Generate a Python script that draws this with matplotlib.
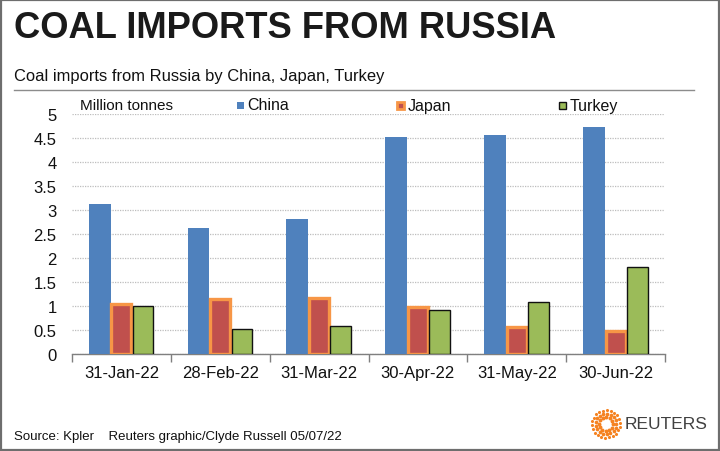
import numpy as np
import matplotlib
matplotlib.use("Agg")
import matplotlib.pyplot as plt
from matplotlib.patches import Rectangle
from matplotlib import font_manager as fm

months = ["31-Jan-22", "28-Feb-22", "31-Mar-22", "30-Apr-22", "31-May-22", "30-Jun-22"]
china = [3.12, 2.62, 2.81, 4.52, 4.57, 4.72]
japan = [1.05, 1.14, 1.17, 0.98, 0.57, 0.48]
turkey = [1.00, 0.52, 0.58, 0.91, 1.08, 1.81]
yticks = [0, 0.5, 1, 1.5, 2, 2.5, 3, 3.5, 4, 4.5, 5]
ytick_labels = ["0", "0.5", "1", "1.5", "2", "2.5", "3", "3.5", "4", "4.5", "5"]

FONT = ["Liberation Sans", "DejaVu Sans"]
plt.rcParams["font.family"] = FONT

names = sorted({f.name for f in fm.fontManager.ttflist})
narrow = [n for n in names if "Narrow" in n or "Condensed" in n]

W, H = 720, 452
fig = plt.figure(figsize=(W / 100, H / 100), dpi=100)
fig.patch.set_facecolor("white")

def fx(px):
    return px / W

def fy(py):
    return 1 - py / H

fig.add_artist(Rectangle((0.001, 0.002), 0.997, 0.996, transform=fig.transFigure,
                         fill=False, edgecolor="#6e6e6e", linewidth=1.6))

renderer = fig.canvas.get_renderer()

def fit_text(xp, yp, s, width_px, size, **kw):
    t = fig.text(fx(xp), fy(yp), s, fontsize=size, **kw)
    bb = t.get_window_extent(renderer=renderer)
    t.set_fontsize(size * width_px / bb.width)
    return t

fit_text(14, 29, "COAL IMPORTS FROM RUSSIA", 543, 35, fontweight="bold",
         fontstretch="condensed", color="#1a1a1a", va="center", ha="left")
fig.add_artist(plt.Line2D([fx(14), fx(694)], [fy(91), fy(91)], transform=fig.transFigure,
                          color="#8c8c8c", linewidth=1.0))
fig.text(fx(14), fy(77), "Coal imports from Russia by China, Japan, Turkey",
         fontsize=11.9, color="#111111", va="center", ha="left")

ax = fig.add_axes([fx(72), fy(355), fx(665) - fx(72), fy(115) - fy(355)])
x = np.arange(len(months))
w = 0.22
ax.bar(x - w, china, w, color="#4F81BD", edgecolor="none", zorder=3)
ax.bar(x, japan, w * 0.92, color="#C0504D", edgecolor="#F79646", linewidth=2.4, zorder=3)
ax.bar(x + w, turkey, w * 0.95, color="#9BBB59", edgecolor="#111111", linewidth=1.0, zorder=3)

ax.set_xlim(-0.5, len(months) - 0.5)
ax.set_ylim(0, 5)
ax.set_yticks(yticks)
ax.set_yticklabels(ytick_labels)
ax.tick_params(axis="y", length=0, labelsize=12, pad=11, colors="#111111")
ax.set_xticks(x)
ax.set_xticklabels(months)
ax.tick_params(axis="x", length=0, labelsize=12, pad=8, colors="#111111")
ax.set_xticks(np.arange(len(months) + 1) - 0.5, minor=True)
ax.tick_params(axis="x", which="minor", length=6, width=1, color="#7f7f7f")
for s in ["top", "right", "left"]:
    ax.spines[s].set_visible(False)
ax.spines["bottom"].set_color("#7f7f7f")
ax.spines["bottom"].set_linewidth(1)
ax.yaxis.grid(True, linestyle=(0, (1, 1)), color="#bdbdbd", linewidth=0.9, zorder=0)
ax.set_axisbelow(True)
ax.set_facecolor("none")

ly = fy(106)
fig.text(fx(80), ly, "Million tonnes", fontsize=11, va="center", ha="left", color="#111111")
def marker(px, face, edge, lw):
    fig.add_artist(Rectangle((fx(px), fy(110)), 7 / W, 7 / H, transform=fig.transFigure,
                             facecolor=face, edgecolor=edge, linewidth=lw))
marker(237, "#4F81BD", "none", 0)
fig.text(fx(247), ly, "China", fontsize=11.5, va="center", ha="left", color="#111111")
marker(397, "#C0504D", "#F79646", 2.0)
fig.text(fx(408), ly, "Japan", fontsize=11.5, va="center", ha="left", color="#111111")
marker(559, "#9BBB59", "#111111", 1.0)
fig.text(fx(570), ly, "Turkey", fontsize=11.5, va="center", ha="left", color="#111111")

fit_text(14, 437, "Source: Kpler    Reuters graphic/Clyde Russell 05/07/22", 328, 11,
         fontstretch="condensed", va="center", ha="left", color="#111111")

lax = fig.add_axes([fx(590), fy(441), 32 / W, 32 / H])
lax.set_xlim(-1.1, 1.1)
lax.set_ylim(-1.1, 1.1)
lax.axis("off")
for r, n, sz in [(0.95, 22, 5), (0.72, 17, 7), (0.5, 12, 8)]:
    th = np.linspace(0, 2 * np.pi, n, endpoint=False) + r
    lax.scatter(r * np.cos(th), r * np.sin(th), s=sz, color="#F58220", linewidths=0)
fig.text(fx(625), fy(425), "REUTERS", fontsize=12.5, va="center", ha="left", color="#404040")

fig.savefig("out.png", dpi=100, facecolor="white")
